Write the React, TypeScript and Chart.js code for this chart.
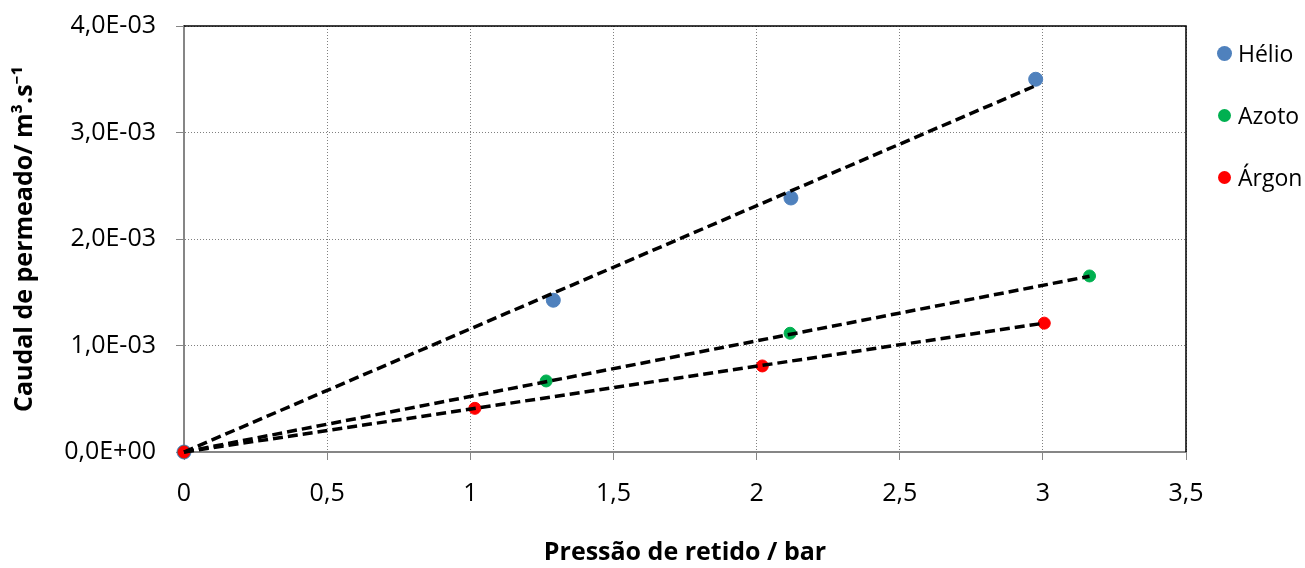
import React, { useEffect, useRef } from "react";
import { Chart, registerables } from "chart.js";

Chart.register(...registerables);

const seriesNames = ["Hélio", "Azoto", "Árgon"];
const seriesColors = ["#4F81BD", "#00B050", "#FF0000"];
const pointRadii = [7, 6, 6];

const helioX = [0, 1.29, 2.12, 2.975];
const helioY = [0, 1.425e-3, 2.385e-3, 3.5e-3];
const azotoX = [0, 1.265, 2.117, 3.163];
const azotoY = [0, 0.667e-3, 1.115e-3, 1.653e-3];
const argonX = [0, 1.016, 2.02, 3.005];
const argonY = [0, 0.41e-3, 0.808e-3, 1.21e-3];

// Linear trend lines through the origin (end points)
const trendEndX = [2.975, 3.163, 3.005];
const trendEndY = [3.44e-3, 1.65e-3, 1.21e-3];

const xTickLabels = ["0", "0,5", "1", "1,5", "2", "2,5", "3", "3,5"];
const yTickLabels = ["0,0E+00", "1,0E-03", "2,0E-03", "3,0E-03", "4,0E-03"];

const xTitle = "Pressão de retido / bar";
const yTitle = "Caudal de permeado/ m³.s⁻¹";

const FONT = "'Open Sans', 'Noto Sans', sans-serif";

export default function App() {
  const ref = useRef<HTMLCanvasElement>(null);

  useEffect(() => {
    document.body.style.margin = "0";
    const canvas = ref.current;
    if (!canvas) return;
    const mk = (xs: number[], ys: number[]) => xs.map((x, i) => ({ x, y: ys[i] }));
    const pts = [mk(helioX, helioY), mk(azotoX, azotoY), mk(argonX, argonY)];
    const datasets: any[] = [];
    seriesNames.forEach((name, i) => {
      datasets.push({
        label: name + " (tendência)",
        data: [
          { x: 0, y: 0 },
          { x: trendEndX[i], y: trendEndY[i] },
        ],
        showLine: true,
        borderColor: "#000000",
        borderWidth: 3.5,
        borderDash: [10, 5],
        pointRadius: 0,
        fill: false,
        clip: false,
        order: 0,
      });
    });
    seriesNames.forEach((name, i) => {
      datasets.push({
        label: name,
        data: pts[i],
        showLine: false,
        backgroundColor: seriesColors[i],
        borderColor: seriesColors[i],
        borderWidth: 1,
        pointRadius: pointRadii[i],
        clip: false,
        order: 3 - i,
      });
    });

    const framePlugin = {
      id: "frame",
      beforeDatasetsDraw(chart: any) {
        const { ctx, chartArea } = chart;
        ctx.save();
        ctx.strokeStyle = "#000000";
        ctx.lineWidth = 1.5;
        ctx.beginPath();
        ctx.moveTo(chartArea.left, chartArea.top);
        ctx.lineTo(chartArea.right, chartArea.top);
        ctx.lineTo(chartArea.right, chartArea.bottom);
        ctx.stroke();
        ctx.restore();
      },
    };

    const chart = new Chart(canvas, {
      type: "scatter",
      data: { datasets },
      plugins: [framePlugin],
      options: {
        animation: false,
        responsive: false,
        maintainAspectRatio: false,
        layout: { padding: { left: 8, top: 26, right: 119, bottom: 0 } },
        plugins: { legend: { display: false }, tooltip: { enabled: false } },
        scales: {
          x: {
            type: "linear",
            min: 0,
            max: 3.5,
            ticks: {
              stepSize: 0.5,
              autoSkip: false,
              maxRotation: 0,
              padding: 19,
              color: "#000000",
              font: { family: FONT, size: 25 },
              callback: (_v: any, i: number) => xTickLabels[i],
            },
            grid: { color: "#808080", lineWidth: 1, tickLength: 8, tickColor: "#868686", drawTicks: true },
            border: { display: true, color: "#868686", width: 2, dash: [1, 2] },
            title: {
              display: true,
              text: xTitle,
              color: "#000000",
              font: { family: FONT, size: 25, weight: "bold" },
              padding: { top: 4, bottom: 0 },
            },
            afterFit: (s: any) => {
              s.height = 116;
              s.paddingLeft = 0;
              s.paddingRight = 0;
            },
          },
          y: {
            type: "linear",
            min: 0,
            max: 0.004,
            ticks: {
              stepSize: 0.001,
              autoSkip: false,
              padding: 20,
              color: "#000000",
              font: { family: FONT, size: 25 },
              callback: (_v: any, i: number) => yTickLabels[i],
            },
            grid: { color: "#808080", lineWidth: 1, tickLength: 8, tickColor: "#868686", drawTicks: true },
            border: { display: true, color: "#868686", width: 2, dash: [1, 2] },
            title: {
              display: true,
              text: yTitle,
              color: "#000000",
              font: { family: FONT, size: 25, weight: "bold" },
              padding: { top: 2, bottom: 4 },
            },
            afterFit: (s: any) => {
              s.width = 176;
              s.paddingTop = 0;
              s.paddingBottom = 0;
            },
          },
        },
      } as any,
    });
    return () => chart.destroy();
  }, []);

  return (
    <div style={{ position: "relative", width: 1305, height: 568, background: "#ffffff" }}>
      <canvas ref={ref} width={1305} height={568} style={{ display: "block" }} />
      <div
        style={{
          position: "absolute",
          left: 1216,
          top: 38,
          display: "flex",
          flexDirection: "column",
          gap: 32,
          fontFamily: FONT,
          fontSize: 23,
          color: "#000000",
        }}
      >
        {seriesNames.map((name, i) => (
          <div key={name} style={{ display: "flex", alignItems: "center", height: 30 }}>
            <span style={{ width: 16, display: "flex", justifyContent: "center", alignItems: "center" }}>
              <span
                style={{
                  width: pointRadii[i] * 2 + 1,
                  height: pointRadii[i] * 2 + 1,
                  borderRadius: "50%",
                  background: seriesColors[i],
                  display: "block",
                }}
              />
            </span>
            <span style={{ marginLeft: 6, lineHeight: "30px", whiteSpace: "nowrap" }}>{name}</span>
          </div>
        ))}
      </div>
    </div>
  );
}
